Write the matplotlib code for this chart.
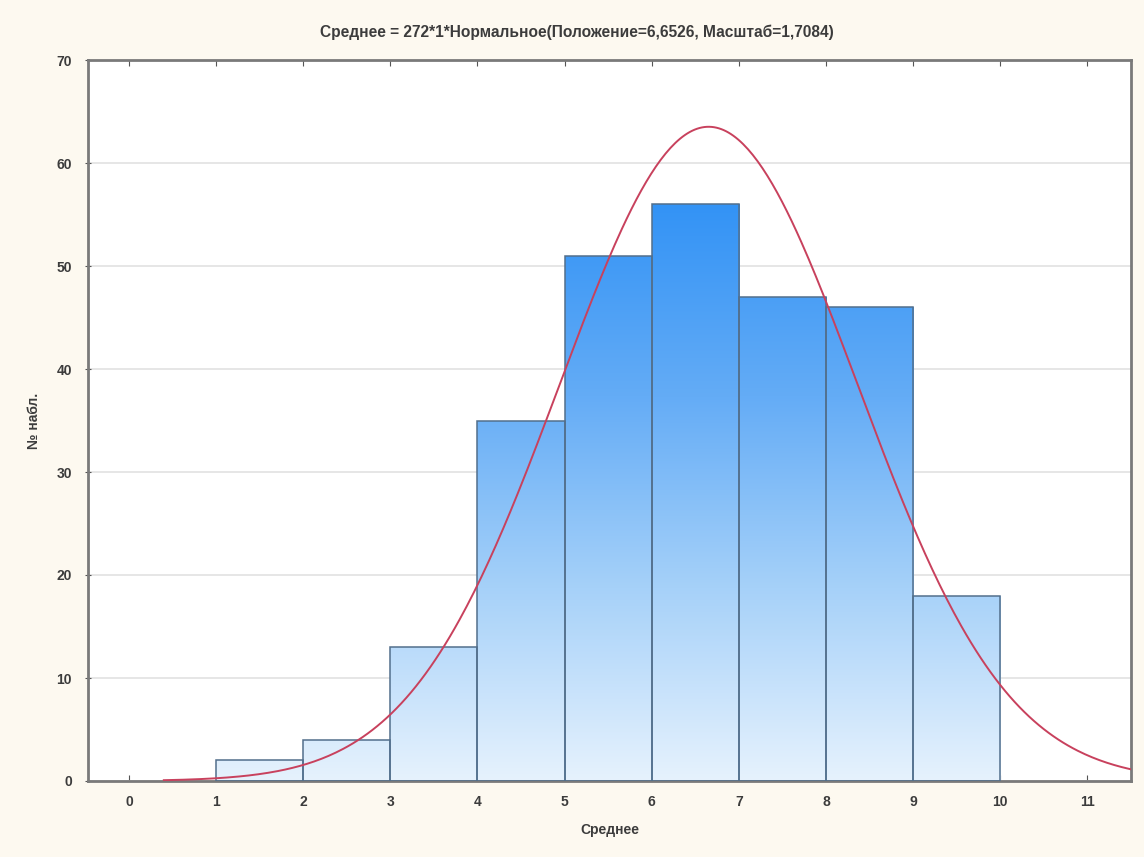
import numpy as np
import matplotlib.pyplot as plt
from matplotlib.colors import LinearSegmentedColormap
from matplotlib.patches import Rectangle

plt.rcParams['font.family'] = ['Liberation Sans', 'DejaVu Sans']

# Histogram of "Среднее" (bin edges 1..10) and the fitted normal curve
bin_left = [1, 2, 3, 4, 5, 6, 7, 8, 9]
counts = [2, 4, 13, 35, 51, 56, 47, 46, 18]
n_total = 272
mu, sigma = 6.6526, 1.7084
x_ticks = list(range(0, 12))
y_ticks = list(range(0, 71, 10))

text_col = '#3c3c3c'
bg_col = '#fdf9f0'

fig = plt.figure(figsize=(11.44, 8.57), dpi=100, facecolor=bg_col)
ax = fig.add_axes([88 / 1144, 1 - 781 / 857, (1131 - 88) / 1144, (781 - 60) / 857])
ax.set_facecolor('white')

# gradient fill runs from pale at zero up to deep blue at the tallest bar
cmap = LinearSegmentedColormap.from_list('bars', ['#e6f2fd', '#a6d1f9', '#64acf6', '#3393f5'])
grad = np.linspace(0, 1, 256).reshape(-1, 1)
top = max(counts)
for left, h in zip(bin_left, counts):
    rect = Rectangle((left, 0), 1, h, facecolor='none', edgecolor='#526f8c',
                     linewidth=1.1, zorder=3)
    ax.add_patch(rect)
    im = ax.imshow(grad, cmap=cmap, origin='lower', aspect='auto',
                   extent=(left, left + 1, 0, top), zorder=2, interpolation='bilinear')
    im.set_clip_path(rect)

# normal curve scaled by count * bin width
xs = np.linspace(0.4, 11.5, 400)
ys = n_total * 1 * np.exp(-0.5 * ((xs - mu) / sigma) ** 2) / (sigma * np.sqrt(2 * np.pi))
ax.plot(xs, ys, color='#c8415d', linewidth=1.4, zorder=4)

ax.set_xlim(-0.47, 11.5)
ax.set_ylim(0, 70)
ax.set_xticks(x_ticks)
ax.set_yticks(y_ticks)
ax.yaxis.grid(True, color='#e2e2e2', linewidth=1.2, zorder=0)
ax.set_axisbelow(True)

for s in ax.spines.values():
    s.set_color('#7a7a7a')
    s.set_linewidth(2)

ax.tick_params(axis='x', direction='in', length=4, top=True, colors='#555555',
               labelcolor=text_col, labelsize=10, pad=10)
ax.tick_params(axis='y', direction='inout', length=5, colors='#555555',
               labelcolor=text_col, labelsize=10, pad=9)
for lbl in ax.get_xticklabels() + ax.get_yticklabels():
    lbl.set_fontweight('bold')

ax.set_xlabel('Среднее', fontsize=10, color=text_col, fontweight='bold', labelpad=10)
ax.set_ylabel('№ набл.', fontsize=10, color=text_col, fontweight='bold', labelpad=11)
fig.text(0.504, 1 - 32 / 857, 'Среднее = 272*1*Нормальное(Положение=6,6526, Масштаб=1,7084)',
         ha='center', va='center', fontsize=11.2, color=text_col, fontweight='bold')

fig.savefig('out.png', dpi=100, facecolor=bg_col)
